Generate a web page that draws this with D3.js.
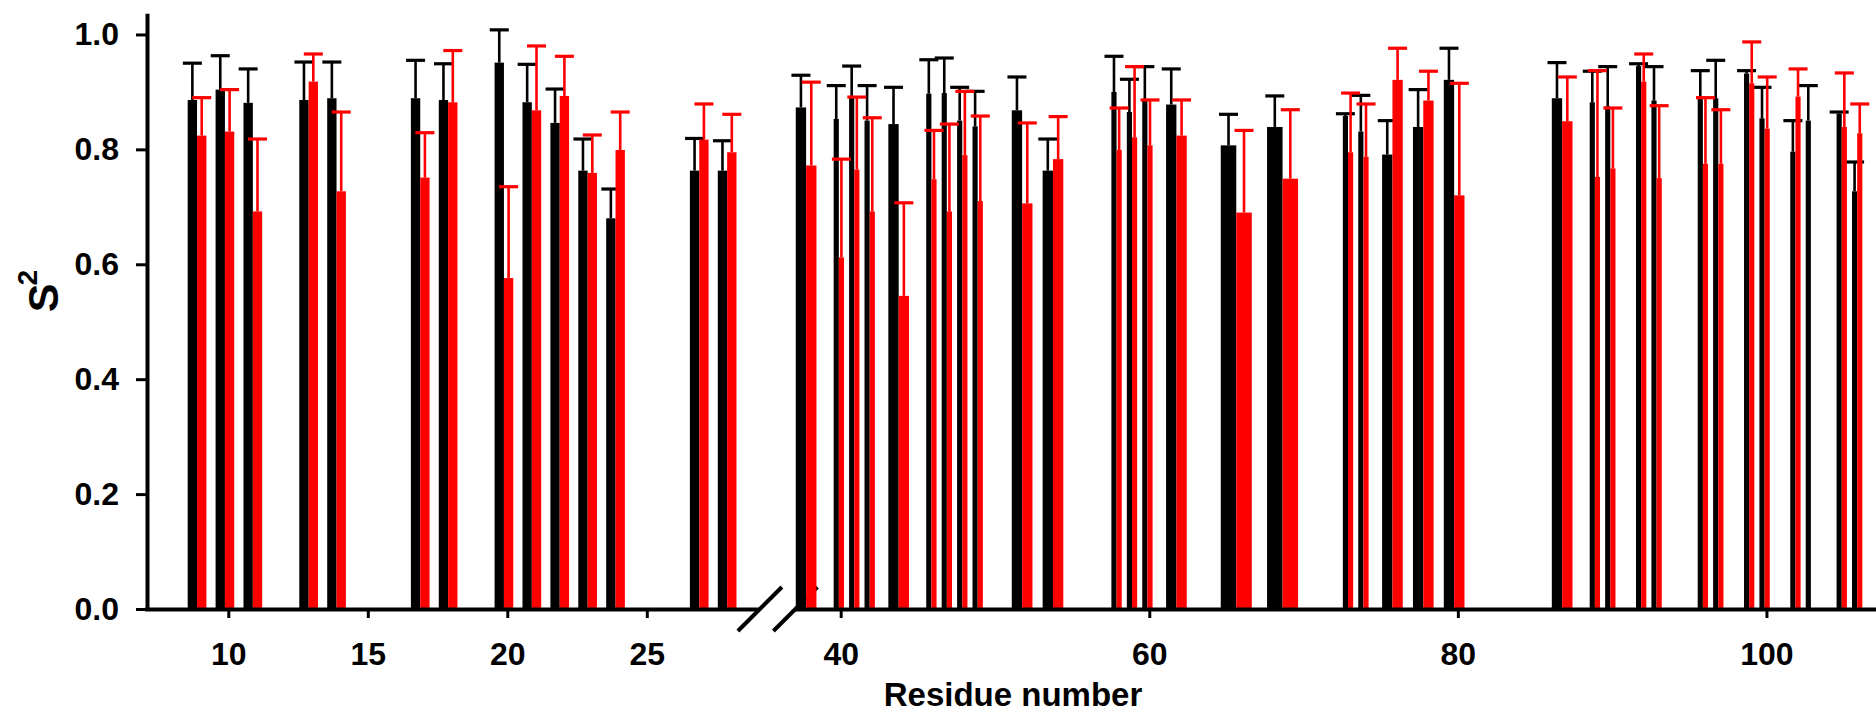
<!DOCTYPE html>
<html>
<head>
<meta charset="utf-8">
<script src="https://cdn.jsdelivr.net/npm/d3@7"></script>
<style>
  body { margin: 0; background: #fff; }
  svg text { font-family: "Liberation Sans", Arial, sans-serif; font-weight: bold; }
</style>
</head>
<body>
<script>
// S2 order parameters per residue, two data sets (black / red), upper error only
const residues = [9, 10, 11, 13, 14, 17, 18, 20, 21, 22, 23, 24, 27, 28,
  38, 40, 41, 42, 44, 46, 47, 48, 49, 52, 54, 58, 59, 60, 62, 66, 69, 73, 74, 76,
  78, 80, 87, 89, 90, 92, 93, 96, 97, 99, 100, 102, 103, 105, 106];

const s2Black = [0.886, 0.904, 0.881, 0.886, 0.889, 0.889, 0.886, 0.951, 0.882, 0.846, 0.763, 0.680, 0.763, 0.763,
  0.873, 0.853, 0.893, 0.850, 0.844, 0.897, 0.898, 0.850, 0.840, 0.868, 0.763, 0.900, 0.865, 0.885, 0.878, 0.807, 0.839, 0.858, 0.831, 0.791,
  0.839, 0.921, 0.889, 0.882, 0.875, 0.945, 0.885, 0.892, 0.889, 0.932, 0.854, 0.796, 0.850, 0.862, 0.727];
const errBlack = [0.064, 0.059, 0.059, 0.066, 0.063, 0.066, 0.063, 0.057, 0.066, 0.059, 0.055, 0.051, 0.056, 0.052,
  0.056, 0.058, 0.052, 0.061, 0.064, 0.059, 0.061, 0.058, 0.061, 0.058, 0.055, 0.062, 0.057, 0.059, 0.062, 0.054, 0.054, 0.004, 0.063, 0.059,
  0.065, 0.055, 0.062, 0.054, 0.069, 0.004, 0.059, 0.045, 0.066, 0.005, 0.054, 0.054, 0.061, 0.003, 0.051];

const s2Red = [0.824, 0.831, 0.692, 0.918, 0.727, 0.751, 0.882, 0.576, 0.868, 0.893, 0.759, 0.799, 0.817, 0.795,
  0.772, 0.612, 0.765, 0.692, 0.545, 0.748, 0.692, 0.790, 0.710, 0.706, 0.783, 0.799, 0.821, 0.807, 0.824, 0.690, 0.749, 0.795, 0.787, 0.921,
  0.885, 0.720, 0.849, 0.752, 0.767, 0.918, 0.750, 0.775, 0.775, 0.915, 0.836, 0.892, null, 0.839, 0.828];
const errRed = [0.066, 0.073, 0.126, 0.048, 0.138, 0.078, 0.090, 0.159, 0.112, 0.069, 0.066, 0.066, 0.062, 0.066,
  0.145, 0.171, 0.126, 0.163, 0.162, 0.085, 0.152, 0.111, 0.148, 0.140, 0.074, 0.073, 0.123, 0.079, 0.062, 0.143, 0.120, 0.103, 0.092, 0.055,
  0.051, 0.195, 0.077, 0.185, 0.105, 0.048, 0.126, 0.115, 0.094, 0.072, 0.090, 0.048, null, 0.094, 0.051];

const yTicks = [0, 0.2, 0.4, 0.6, 0.8, 1.0];
const leftTicks = [10, 15, 20, 25];
const rightTicks = [40, 60, 80, 100];

const W = 1876, H = 716;
const svg = d3.select("body").append("svg")
    .attr("width", W)
    .attr("height", H)
    .style("background", "#fff");

const y = d3.scaleLinear().domain([0, 1.037]).range([609, 13.2]);

// broken x axis: two linear pieces
const segments = [
  { x: d3.scaleLinear().domain([7, 29]).range([144.6, 758.4]), ticks: leftTicks, keep: r => r < 33 },
  { x: d3.scaleLinear().domain([37, 107.1]).range([794.4, 1876]), ticks: rightTicks, keep: r => r > 33 }
];

// break marks (drawn first, bars sit over them like in the original)
const y0 = y(0);
[segments[0].x(29) + 1.5, segments[1].x(37) + 1]
  .forEach(c => {
    svg.append("line")
        .attr("x1", c - 22).attr("y1", y0 + 22)
        .attr("x2", c + 22).attr("y2", y0 - 22)
        .attr("stroke", "#000")
        .attr("stroke-width", 4);
  });

// build bar groups; width follows the spacing to the nearest neighbour
const rows = residues.map((r, i) => ({ r, b: s2Black[i], eb: errBlack[i], red: s2Red[i], er: errRed[i] }));

const bars = [];
segments.forEach(seg => {
  const list = rows.filter(d => seg.keep(d.r));
  list.forEach((d, i) => {
    const gaps = [];
    if (i > 0) gaps.push(seg.x(d.r) - seg.x(list[i - 1].r));
    if (i < list.length - 1) gaps.push(seg.x(list[i + 1].r) - seg.x(d.r));
    const gw = 0.67 * d3.min(gaps);
    const mid = seg.x(d.r) - 0.18 * gw;
    bars.push({ ...d, gw, mid });
  });
});

const capW = 19;

function drawSeries(color, val, err, side) {
  const g = svg.append("g");
  const data = bars.filter(d => d[val] != null);
  const bx = d => side < 0 ? d.mid - d.gw / 2 : d.mid;

  g.selectAll("rect")
    .data(data)
    .join("rect")
      .attr("x", bx)
      .attr("y", d => y(d[val]))
      .attr("width", d => d.gw / 2)
      .attr("height", d => y(0) - y(d[val]))
      .attr("fill", color);

  g.selectAll("line.err")
    .data(data)
    .join("line")
      .attr("class", "err")
      .attr("x1", d => bx(d) + d.gw / 4)
      .attr("x2", d => bx(d) + d.gw / 4)
      .attr("y1", d => y(d[val]))
      .attr("y2", d => y(d[val] + d[err]))
      .attr("stroke", color)
      .attr("stroke-width", 2.6);

  g.selectAll("line.cap")
    .data(data)
    .join("line")
      .attr("class", "cap")
      .attr("x1", d => bx(d) + d.gw / 4 - capW / 2)
      .attr("x2", d => bx(d) + d.gw / 4 + capW / 2)
      .attr("y1", d => y(d[val] + d[err]))
      .attr("y2", d => y(d[val] + d[err]))
      .attr("stroke", color)
      .attr("stroke-width", 3.2);
}

drawSeries("#000000", "b", "eb", -1);
drawSeries("#ff0000", "red", "er", 1);

// x axes
segments.forEach(seg => {
  const ax = svg.append("g")
      .attr("transform", `translate(0,${y0})`)
      .call(d3.axisBottom(seg.x).tickValues(seg.ticks).tickSize(9).tickSizeOuter(0).tickPadding(24).tickFormat(d3.format("d")));
  ax.select(".domain").attr("stroke-width", 4);
  ax.selectAll(".tick line").attr("stroke-width", 3);
  ax.selectAll(".tick text").attr("font-size", 32).attr("fill", "#000");
});

// y axis
const ay = svg.append("g")
    .attr("transform", "translate(147,0)")
    .call(d3.axisLeft(y).tickValues(yTicks).tickSize(11).tickSizeOuter(0).tickPadding(17).tickFormat(d3.format(".1f")));
ay.select(".domain").attr("stroke-width", 4);
ay.selectAll(".tick line").attr("stroke-width", 3);
ay.selectAll(".tick text").attr("font-size", 32).attr("fill", "#000");

// axis titles
svg.append("text")
    .attr("x", 1013)
    .attr("y", 706)
    .attr("text-anchor", "middle")
    .attr("font-size", 33)
    .text("Residue number");

const yt = svg.append("text")
    .attr("transform", "translate(58,291) rotate(-90)")
    .attr("text-anchor", "middle")
    .attr("font-size", 43);
yt.append("tspan").text("S");
yt.append("tspan").attr("dy", -21).attr("dx", -2).attr("font-size", 28).text("2");
</script>
</body>
</html>
